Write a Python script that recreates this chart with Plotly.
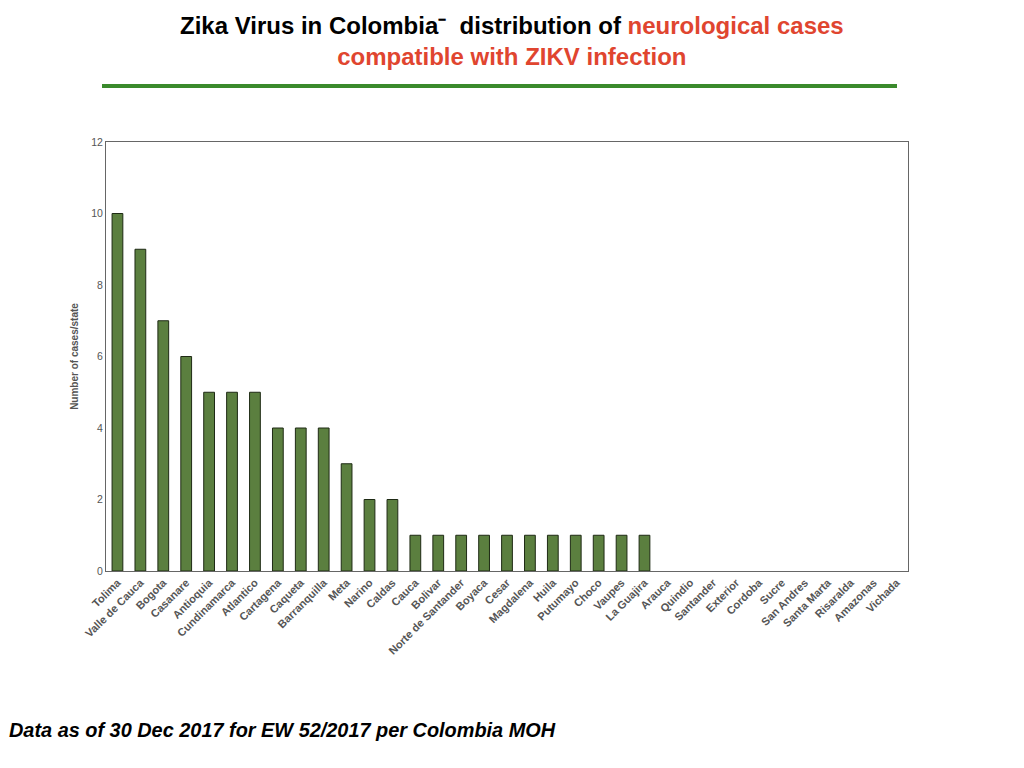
import plotly.graph_objects as go

states = ["Tolima", "Valle de Cauca", "Bogota", "Casanare", "Antioquia", "Cundinamarca",
          "Atlantico", "Cartagena", "Caqueta", "Barranquilla", "Meta", "Narino", "Caldas",
          "Cauca", "Bolivar", "Norte de Santander", "Boyaca", "Cesar", "Magdalena", "Huila",
          "Putumayo", "Choco", "Vaupes", "La Guajira", "Arauca", "Quindio", "Santander",
          "Exterior", "Cordoba", "Sucre", "San Andres", "Santa Marta", "Risaralda",
          "Amazonas", "Vichada"]
cases = [10, 9, 7, 6, 5, 5, 5, 4, 4, 4, 3, 2, 2, 1, 1, 1, 1, 1, 1, 1, 1, 1, 1, 1,
         0, 0, 0, 0, 0, 0, 0, 0, 0, 0, 0]
y_ticks = [0, 2, 4, 6, 8, 10, 12]

# page coordinates of the plot area (the page body adds an 8px offset)
OFF = 8
L, R, T, B = 106, 908, 142, 571
W, H = 1024, 768

def px(x):
    return (x - L) / (R - L)

def py(y):
    return (B - y) / (B - T)

fig = go.Figure(go.Bar(
    x=states, y=cases,
    marker=dict(color="#5B7F3F",
                line=dict(color="#1E2A14", width=[1 if v > 0 else 0 for v in cases])),
))

fig.update_layout(
    width=W, height=H,
    margin=dict(l=L - OFF, r=W - R + OFF, t=T - OFF, b=H - B + OFF),
    paper_bgcolor="white", plot_bgcolor="white",
    bargap=0.53,
    showlegend=False,
    font=dict(family="Liberation Sans, Arial, sans-serif"),
)
fig.update_xaxes(
    type="category", tickangle=-45, showline=True, mirror=True,
    linecolor="#666666", linewidth=1, ticks="", showgrid=False,
    tickfont=dict(size=11, color="#555555", family="Liberation Sans, Arial, sans-serif"),
    tickprefix="<b>", ticksuffix="</b>",
)
fig.update_yaxes(
    range=[0, 12], tickvals=y_ticks, showline=True, mirror=True,
    linecolor="#666666", linewidth=1, ticks="", showgrid=False, zeroline=False,
    tickfont=dict(size=10.5, color="#555555"),
    tickprefix="<b>", ticksuffix="</b>",
    title=dict(text="<b>Number of cases/state</b>", font=dict(size=10, color="#555555"), standoff=10),
)

red = "#E0452F"
fig.add_annotation(
    xref="paper", yref="paper", x=px(512), y=py(41), xanchor="center", yanchor="middle",
    showarrow=False, align="center",
    text=("<b>Zika Virus in Colombia⁻  distribution of <span style='color:%s'>neurological cases</span>"
          "<br><span style='color:%s'>compatible with ZIKV infection</span></b>") % (red, red),
    font=dict(size=24, color="black", family="Liberation Sans, Arial, sans-serif"),
)
fig.add_shape(type="line", xref="paper", yref="paper",
              x0=px(102), x1=px(897), y0=py(86), y1=py(86),
              line=dict(color="#3A8A2C", width=4))
fig.add_annotation(
    xref="paper", yref="paper", x=px(7), y=py(730), xanchor="left", yanchor="middle",
    showarrow=False,
    text="<b><i>Data as of 30 Dec 2017 for EW 52/2017 per Colombia MOH</i></b>",
    font=dict(size=19.9, color="black", family="Liberation Sans, Arial, sans-serif"),
)

fig.write_html("out.html")
